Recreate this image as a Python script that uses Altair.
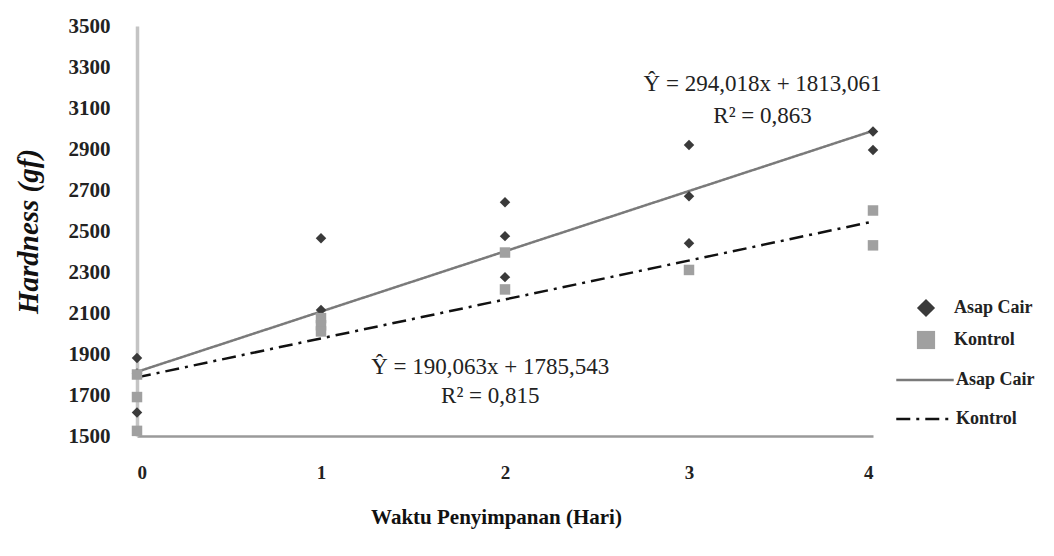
import altair as alt
import pandas as pd

# Observed points (day, hardness)
asap_day = [0, 0, 0, 1, 1, 2, 2, 2, 3, 3, 3, 4, 4]
asap_val = [1880, 1805, 1615, 2465, 2115, 2640, 2475, 2275, 2920, 2670, 2440, 2985, 2895]
kontrol_day = [0, 0, 0, 1, 1, 1, 2, 2, 3, 4, 4]
kontrol_val = [1800, 1690, 1525, 2075, 2040, 2010, 2395, 2215, 2310, 2600, 2430]

# Trend line end points
trend_day = [0, 4]
trend_asap = [1813, 2989]
trend_kontrol = [1786, 2546]

series_names = ["Asap Cair", "Kontrol"]

ann_text = ["Ŷ = 294,018x + 1813,061", "R² = 0,863", "Ŷ = 190,063x + 1785,543", "R² = 0,815"]
ann_day = [3.40, 3.40, 1.92, 1.92]
ann_val = [3217, 3061, 1837, 1695]

pts = pd.DataFrame({
    "day": asap_day + kontrol_day,
    "val": asap_val + kontrol_val,
    "series": ["Asap Cair"] * len(asap_day) + ["Kontrol"] * len(kontrol_day),
})
trend = pd.DataFrame({
    "day": trend_day + trend_day,
    "val": trend_asap + trend_kontrol,
    "trend": ["Asap Cair"] * 2 + ["Kontrol"] * 2,
})
ann = pd.DataFrame({"day": ann_day, "val": ann_val, "text": ann_text})

FONT = "'Liberation Serif', 'Times New Roman', serif"

x = alt.X("day:Q", scale=alt.Scale(domain=[0, 4], nice=False),
          axis=alt.Axis(values=[0, 1, 2, 3, 4], format="d", title="Waktu Penyimpanan (Hari)",
                        grid=False, ticks=False, labelPadding=27, titlePadding=24, titleX=359,
                        domainColor="#9a9a9a", domainWidth=2.5,
                        labelFont=FONT, labelFontSize=19, labelFontWeight="bold", labelColor="#222",
                        titleFont=FONT, titleFontSize=21, titleFontWeight="bold", titleColor="#111"))
y = alt.Y("val:Q", scale=alt.Scale(domain=[1500, 3500], nice=False, zero=False),
          axis=alt.Axis(values=list(range(1500, 3501, 200)), format="d", title="Hardness (gf)",
                        grid=False, ticks=False, labelPadding=27, titlePadding=25,
                        domainColor="#c4c4c4", domainWidth=3.5,
                        labelFont=FONT, labelFontSize=21, labelFontWeight="bold", labelColor="#222",
                        titleFont=FONT, titleFontSize=29, titleFontWeight="bold", titleFontStyle="italic",
                        titleColor="#111"))

pt_legend = alt.Legend(title=None, orient="none", legendX=779, legendY=272,
                       symbolSize=330, rowPadding=12, labelOffset=18)
ln_legend = alt.Legend(title=None, orient="none", legendX=758, legendY=324,
                       symbolSize=3300, symbolStrokeWidth=2.5, rowPadding=0, labelOffset=1)

points = alt.Chart(pts).mark_point(filled=True, opacity=1).encode(
    x=x, y=y,
    shape=alt.Shape("series:N", scale=alt.Scale(domain=series_names, range=["diamond", "square"]),
                    legend=pt_legend),
    color=alt.Color("series:N", scale=alt.Scale(domain=series_names, range=["#3a3a3a", "#a0a0a0"]),
                    legend=pt_legend),
    size=alt.value(110),
)

lines = alt.Chart(trend).mark_line(strokeWidth=2.5).encode(
    x="day:Q", y="val:Q",
    strokeDash=alt.StrokeDash("trend:N", scale=alt.Scale(domain=series_names, range=[[1, 0], [14, 6, 3, 6]]),
                              legend=ln_legend),
    color=alt.Color("trend:N", scale=alt.Scale(domain=series_names, range=["#7a7a7a", "#111111"]),
                    legend=ln_legend),
)

texts = alt.Chart(ann).mark_text(font=FONT, fontSize=23, color="#222", align="center").encode(
    x="day:Q", y="val:Q", text="text:N")

chart = alt.layer(lines, points, texts).resolve_scale(
    color="independent", shape="independent", strokeDash="independent"
).properties(
    width=736, height=410, padding={"left": 6, "top": 7, "right": 5, "bottom": 5}
).configure_view(stroke=None).configure_legend(
    labelFont=FONT, labelFontSize=18, labelFontWeight="bold", labelColor="#222"
)

chart.save("out.html", embed_options={"renderer": "svg", "actions": False})
